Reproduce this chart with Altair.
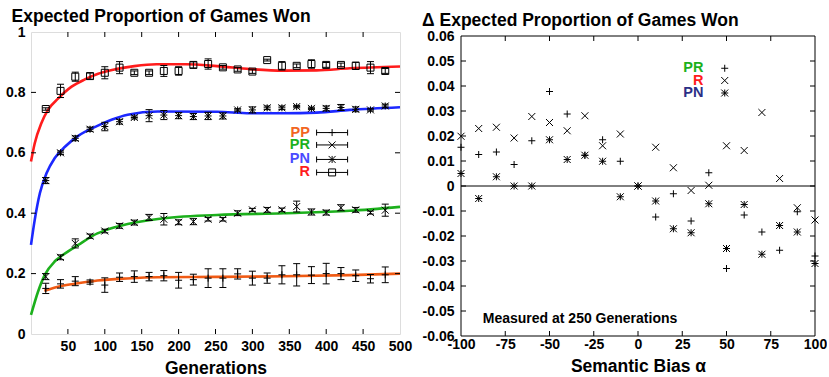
import altair as alt
import pandas as pd

FONT = "Liberation Sans"

# ---------------- left panel: proportion of games won vs generations ----------------
gens = [20, 40, 60, 80, 100, 120, 140, 160, 180, 200, 220, 240,
        260, 280, 300, 320, 340, 360, 380, 400, 420, 440, 460, 480]

pp_mean = [0.151, 0.166, 0.175, 0.172, 0.162, 0.188, 0.190, 0.190, 0.193, 0.178, 0.180, 0.185,
           0.185, 0.199, 0.185, 0.185, 0.196, 0.196, 0.195, 0.200, 0.200, 0.193, 0.183, 0.196]
pp_err = [0.017, 0.014, 0.015, 0.007, 0.024, 0.014, 0.019, 0.014, 0.017, 0.026, 0.018, 0.031,
          0.031, 0.017, 0.023, 0.017, 0.030, 0.037, 0.028, 0.034, 0.020, 0.019, 0.014, 0.026]

pr_mean = [0.190, 0.254, 0.300, 0.324, 0.341, 0.358, 0.369, 0.386, 0.380, 0.370, 0.372, 0.380,
           0.380, 0.400, 0.411, 0.411, 0.411, 0.422, 0.404, 0.402, 0.418, 0.411, 0.402, 0.410]
pr_err = [0.010, 0.008, 0.015, 0.007, 0.006, 0.008, 0.008, 0.010, 0.019, 0.008, 0.010, 0.006,
          0.006, 0.008, 0.005, 0.008, 0.006, 0.018, 0.010, 0.008, 0.010, 0.008, 0.005, 0.020]

pn_mean = [0.508, 0.600, 0.648, 0.678, 0.687, 0.703, 0.717, 0.723, 0.725, 0.723, 0.720, 0.722,
           0.722, 0.742, 0.742, 0.749, 0.749, 0.753, 0.747, 0.747, 0.750, 0.744, 0.742, 0.755]
pn_err = [0.010, 0.006, 0.008, 0.007, 0.014, 0.008, 0.005, 0.020, 0.015, 0.010, 0.010, 0.012,
          0.010, 0.004, 0.010, 0.006, 0.006, 0.004, 0.004, 0.008, 0.010, 0.008, 0.004, 0.006]

r_mean = [0.745, 0.805, 0.852, 0.854, 0.865, 0.882, 0.865, 0.865, 0.871, 0.871, 0.891, 0.894,
          0.883, 0.876, 0.869, 0.907, 0.888, 0.888, 0.894, 0.891, 0.891, 0.888, 0.882, 0.871]
r_err = [0.004, 0.022, 0.015, 0.010, 0.020, 0.020, 0.006, 0.006, 0.018, 0.014, 0.010, 0.017,
         0.006, 0.006, 0.006, 0.003, 0.014, 0.006, 0.014, 0.008, 0.006, 0.012, 0.020, 0.008]

# fitted trend curves
pp_fit_x = [18, 41, 64, 90, 130, 172, 252, 342, 432, 500]
pp_fit_y = [0.143, 0.159, 0.168, 0.177, 0.184, 0.188, 0.189, 0.191, 0.195, 0.200]
pr_fit_x = [0, 9.5, 18.5, 32, 41, 64, 90, 100, 131, 172, 252, 342, 432, 500]
pr_fit_y = [0.063, 0.140, 0.195, 0.240, 0.258, 0.295, 0.333, 0.343, 0.364, 0.381, 0.394, 0.400,
            0.408, 0.421]
pn_fit_x = [0, 5, 12, 21, 32, 46, 64, 90, 110, 131, 172, 252, 297, 342, 387, 432, 500]
pn_fit_y = [0.295, 0.377, 0.466, 0.532, 0.582, 0.620, 0.656, 0.689, 0.710, 0.726, 0.737, 0.736,
            0.731, 0.731, 0.733, 0.742, 0.751]
r_fit_x = [0, 5, 14, 23, 37, 55, 73, 90, 115, 140, 170, 210, 252, 297, 342, 387, 432, 500]
r_fit_y = [0.571, 0.631, 0.698, 0.742, 0.780, 0.819, 0.843, 0.861, 0.877, 0.887, 0.893, 0.893,
           0.887, 0.877, 0.872, 0.873, 0.880, 0.886]

series_names = ["PP", "PR", "PN", "R"]
line_colors = ["#f05a14", "#1cb01c", "#1c28ff", "#ff1c1c"]
label_colors = ["#f26522", "#1cb01c", "#4a4aff", "#ff1c1c"]

# symbol shapes (custom paths live in the [-1, 1] box)
PLUS = "M-1,0L1,0M0,-1L0,1"
CROSS = "M-1,-1L1,1M-1,1L1,-1"
STAR = "M-1,0L1,0M0,-1L0,1M-1,-1L1,1M-1,1L1,-1"
HBAR = "M-1,0L1,0"
VBAR = "M0,-1L0,1"
shapes = [PLUS, CROSS, STAR, "square"]

# legend of the left panel
leg1_label_x = 378
leg1_mark_x = 408
leg1_bar = [387, 429]
leg1_y = [0.667, 0.626, 0.578, 0.535]

# ---------------- right panel: change at 250 generations vs semantic bias ----------------
alpha = [-100, -90, -80, -70, -60, -50, -40, -30, -20, -10, 0,
         10, 20, 30, 40, 50, 60, 70, 80, 90, 100]
pr_delta = [0.0155, 0.0126, 0.0136, 0.0086, 0.0181, 0.0378, 0.0288, 0.0123, 0.0185, 0.0099, 0.0,
            -0.0124, -0.0031, -0.0140, 0.0053, -0.0330, -0.0116, -0.0184, -0.0257, -0.0103, -0.0280]
r_delta = [0.0199, 0.0230, 0.0235, 0.0192, 0.0278, 0.0254, 0.0221, 0.0281, 0.0161, 0.0208, 0.0,
           0.0155, 0.0073, -0.0018, 0.0003, 0.0161, 0.0142, 0.0294, 0.0030, -0.0087, -0.0136]
pn_delta = [0.0050, -0.0050, 0.0037, 0.0, 0.0, 0.0185, 0.0106, 0.0123, 0.0099, -0.0043, 0.0,
            -0.0060, -0.0171, -0.0187, -0.0071, -0.0250, -0.0074, -0.0273, -0.0158, -0.0184, -0.0310]

delta_names = ["PR", "R", "PN"]
delta_shapes = [PLUS, CROSS, STAR]
delta_label_colors = ["#1cb01c", "#ff1c1c", "#2b2f86"]
leg2_label_x = 37
leg2_mark_x = 49
leg2_y = [0.0471, 0.0422, 0.0372]

# ---------------- tables ----------------
means = {"PP": pp_mean, "PR": pr_mean, "PN": pn_mean, "R": r_mean}
errs = {"PP": pp_err, "PR": pr_err, "PN": pn_err, "R": r_err}
pts = pd.DataFrame([
    {"gen": g, "series": s, "mean": m, "lo": m - e, "hi": m + e}
    for s in series_names for g, m, e in zip(gens, means[s], errs[s])
])
fits = {"PP": (pp_fit_x, pp_fit_y), "PR": (pr_fit_x, pr_fit_y),
        "PN": (pn_fit_x, pn_fit_y), "R": (r_fit_x, r_fit_y)}
fit_df = pd.DataFrame([
    {"gen": x, "val": y, "series": s}
    for s in series_names for x, y in zip(*fits[s])
])
leg1 = pd.DataFrame({"series": series_names, "y": leg1_y, "c": label_colors,
                     "lx": leg1_label_x, "mx": leg1_mark_x,
                     "b0": leg1_bar[0], "b1": leg1_bar[1]})

deltas = {"PR": pr_delta, "R": r_delta, "PN": pn_delta}
dpts = pd.DataFrame([
    {"alpha": a, "series": s, "delta": d}
    for s in delta_names for a, d in zip(alpha, deltas[s])
])
leg2 = pd.DataFrame({"series": delta_names, "y": leg2_y, "c": delta_label_colors,
                     "lx": leg2_label_x, "mx": leg2_mark_x})

# ---------------- shared styling ----------------
W1, H1 = 369, 302
W2, H2 = 354, 304      # right panel: 4px strip above the frame
TOP2 = 4               # frame of the right panel starts this far down
TICK = 5

axis_style = dict(
    labelFont=FONT, labelFontSize=14, labelFontWeight="bold", labelColor="black",
    titleFont=FONT, titleFontSize=17.5, titleFontWeight="bold", titleColor="black",
    ticks=False, tickSize=0, domain=False, grid=False,
    labelFlush=False, labelOverlap=False,
)

# ---------------- left panel scales / axes ----------------
xs1 = alt.Scale(domain=[0, 500], nice=False, zero=False)
ys1 = alt.Scale(domain=[0, 1], nice=False, zero=False)
xticks1 = [50, 100, 150, 200, 250, 300, 350, 400, 450, 500]
yticks1 = [0, 0.2, 0.4, 0.6, 0.8, 1]
ax1x = alt.Axis(values=xticks1, title="Generations", labelPadding=5, titlePadding=6, **axis_style)
ax1y = alt.Axis(values=yticks1, title=None, format="~g", labelPadding=6, **axis_style)


def X1(f):
    return alt.X(f, type="quantitative", scale=xs1, axis=ax1x)


def Y1(f):
    return alt.Y(f, type="quantitative", scale=ys1, axis=ax1y)


# ---------------- right panel scales / axes ----------------
ymax2 = 0.06 + 0.12 * TOP2 / (H2 - TOP2)
xs2 = alt.Scale(domain=[-100, 100], nice=False, zero=False)
ys2 = alt.Scale(domain=[-0.06, ymax2], nice=False, zero=False)
xticks2 = [-100, -75, -50, -25, 0, 25, 50, 75, 100]
yticks2 = [-0.06, -0.05, -0.04, -0.03, -0.02, -0.01, 0, 0.01, 0.02, 0.03, 0.04, 0.05, 0.06]
ax2x = alt.Axis(values=xticks2, title="Semantic Bias α", labelPadding=1, titlePadding=6,
                labelExpr="(datum.value < 0 ? '-' : '') + abs(datum.value)", **axis_style)
ax2y = alt.Axis(values=yticks2, title=None, labelPadding=7,
                labelExpr="datum.value == 0 ? '0' : (datum.value < 0 ? '-' : '') + format(abs(datum.value), '.2f')",
                **axis_style)


def X2(f):
    return alt.X(f, type="quantitative", scale=xs2, axis=ax2x)


def Y2(f):
    return alt.Y(f, type="quantitative", scale=ys2, axis=ax2y)


def inward_ticks(X, Y, xvals, yvals, w, h, top=0):
    """Small tick marks pointing into the plot on all four sides."""
    tx = pd.DataFrame({"t": xvals})
    ty = pd.DataFrame({"t": yvals})
    rule = dict(color="black", strokeWidth=1)
    bottom = alt.Chart(tx).mark_rule(**rule).encode(x=X("t"), y=alt.value(h), y2=alt.value(h - TICK))
    upper = alt.Chart(tx).mark_rule(**rule).encode(x=X("t"), y=alt.value(top), y2=alt.value(top + TICK))
    lft = alt.Chart(ty).mark_rule(**rule).encode(y=Y("t"), x=alt.value(0), x2=alt.value(TICK))
    rgt = alt.Chart(ty).mark_rule(**rule).encode(y=Y("t"), x=alt.value(w), x2=alt.value(w - TICK))
    return [bottom, upper, lft, rgt]


title_style = dict(anchor="start", font=FONT, fontSize=17.5, fontWeight="bold", color="black")

# ---------------- left panel ----------------
base1 = alt.Chart(pts)

fit_lines = alt.Chart(fit_df).mark_line(strokeWidth=2.6, interpolate="monotone").encode(
    x=X1("gen"), y=Y1("val"),
    color=alt.Color("series:N", scale=alt.Scale(domain=series_names, range=line_colors),
                    legend=None),
)

err_rules = base1.mark_rule(color="black", strokeWidth=1).encode(x=X1("gen"), y=Y1("lo"), y2="hi:Q")

shape_scale = alt.Scale(domain=series_names, range=shapes)
pt_style = dict(color="black", strokeWidth=1, filled=False, opacity=1)
cap_lo = base1.mark_point(shape=HBAR, size=49, **pt_style).encode(x=X1("gen"), y=Y1("lo"))
cap_hi = base1.mark_point(shape=HBAR, size=49, **pt_style).encode(x=X1("gen"), y=Y1("hi"))
sym1 = base1.mark_point(size=49, **pt_style).encode(
    x=X1("gen"), y=Y1("mean"),
    shape=alt.Shape("series:N", scale=shape_scale, legend=None))

leg1_text = alt.Chart(leg1).mark_text(
    font=FONT, fontSize=14.5, fontWeight="bold", align="right", baseline="middle").encode(
    x=X1("lx"), y=Y1("y"), text="series:N", color=alt.Color("c:N", scale=None))
leg1_bar_rule = alt.Chart(leg1).mark_rule(color="black", strokeWidth=1).encode(
    x=X1("b0"), x2="b1:Q", y=Y1("y"))
leg1_cap0 = alt.Chart(leg1).mark_point(shape=VBAR, size=36, **pt_style).encode(x=X1("b0"), y=Y1("y"))
leg1_cap1 = alt.Chart(leg1).mark_point(shape=VBAR, size=36, **pt_style).encode(x=X1("b1"), y=Y1("y"))
leg1_sym = alt.Chart(leg1).mark_point(size=49, **pt_style).encode(
    x=X1("mx"), y=Y1("y"),
    shape=alt.Shape("series:N", scale=shape_scale, legend=None))

left = alt.layer(
    fit_lines, err_rules, cap_lo, cap_hi, sym1,
    leg1_text, leg1_bar_rule, leg1_cap0, leg1_cap1, leg1_sym,
    *inward_ticks(X1, Y1, xticks1[:-1], yticks1[1:-1], W1, H1),
).properties(
    width=W1, height=H1,
    title=alt.TitleParams("Expected Proportion of Games Won", offset=0, dx=6, **title_style),
)

# ---------------- right panel ----------------
dshape_scale = alt.Scale(domain=delta_names, range=delta_shapes)

frame2 = alt.Chart(pd.DataFrame({"z": [0]})).mark_rect(
    fillOpacity=0, stroke="black", strokeWidth=1).encode(
    x=alt.value(0), x2=alt.value(W2), y=alt.value(TOP2), y2=alt.value(H2))

zero_line = alt.Chart(pd.DataFrame({"z": [0]})).mark_rule(color="black", strokeWidth=1).encode(
    y=Y2("z"), x=alt.value(0), x2=alt.value(W2))

sym2 = alt.Chart(dpts).mark_point(size=49, **pt_style).encode(
    x=X2("alpha"), y=Y2("delta"),
    shape=alt.Shape("series:N", scale=dshape_scale, legend=None))

leg2_text = alt.Chart(leg2).mark_text(
    font=FONT, fontSize=14.5, fontWeight="bold", align="right", baseline="middle").encode(
    x=X2("lx"), y=Y2("y"), text="series:N", color=alt.Color("c:N", scale=None))
leg2_sym = alt.Chart(leg2).mark_point(size=49, **pt_style).encode(
    x=X2("mx"), y=Y2("y"),
    shape=alt.Shape("series:N", scale=dshape_scale, legend=None))

note = alt.Chart(pd.DataFrame({"x": [-87.7], "y": [-0.0548], "t": ["Measured at 250 Generations"]})).mark_text(
    font=FONT, fontSize=14, fontWeight="bold", align="left", baseline="alphabetic", color="black").encode(
    x=X2("x"), y=Y2("y"), text="t:N")

right = alt.layer(
    frame2, zero_line, sym2, leg2_text, leg2_sym, note,
    *inward_ticks(X2, Y2, xticks2[1:-1], yticks2[1:-1], W2, H2, top=TOP2),
).properties(
    width=W2, height=H2, view=alt.ViewBackground(stroke=None),
    title=alt.TitleParams("Δ Expected Proportion of Games Won", offset=0, **title_style),
)

chart = alt.hconcat(left, right, spacing=9).resolve_scale(
    shape="independent", color="independent"
).properties(
    padding={"left": 5, "top": 7, "right": 0, "bottom": 0},
).configure_view(stroke="black", strokeWidth=1).configure(background="white")

chart.save("out.html", embed_options={"renderer": "svg", "actions": False})
